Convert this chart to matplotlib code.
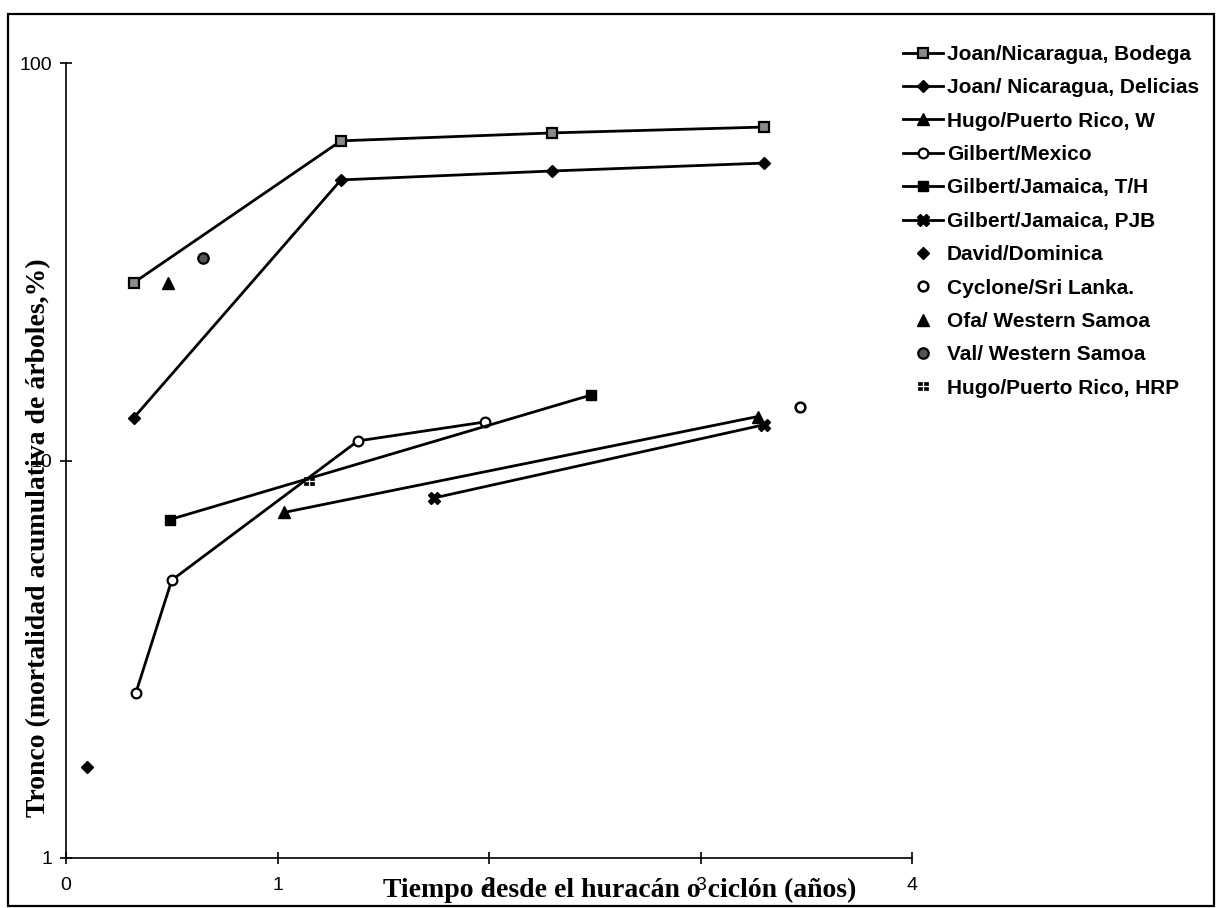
import matplotlib
matplotlib.use("Agg")
import matplotlib.pyplot as plt
from matplotlib.path import Path
from matplotlib.patches import Rectangle

# ---------------- data ----------------
x_bodega = [0.32, 1.30, 2.30, 3.30]
y_bodega = [28.0, 63.7, 66.7, 69.0]

x_delicias = [0.32, 1.30, 2.30, 3.30]
y_delicias = [12.8, 50.8, 53.5, 56.0]

x_hugo_w = [1.03, 3.27]
y_hugo_w = [7.4, 12.9]

x_mexico = [0.33, 0.50, 1.38, 1.98]
y_mexico = [2.6, 5.0, 11.2, 12.5]

x_jam_th = [0.49, 2.48]
y_jam_th = [7.1, 14.6]

x_jam_pjb = [1.74, 3.30]
y_jam_pjb = [8.05, 12.3]

x_david = [0.10]
y_david = [1.69]

x_srilanka = [3.47]
y_srilanka = [13.6]

x_ofa = [0.48]
y_ofa = [28.0]

x_val = [0.65]
y_val = [32.3]

x_hrp = [1.15]
y_hrp = [8.9]

labels = ["Joan/Nicaragua, Bodega", "Joan/ Nicaragua, Delicias",
          "Hugo/Puerto Rico, W", "Gilbert/Mexico", "Gilbert/Jamaica, T/H",
          "Gilbert/Jamaica, PJB", "David/Dominica", "Cyclone/Sri Lanka.",
          "Ofa/ Western Samoa", "Val/ Western Samoa", "Hugo/Puerto Rico, HRP"]

x_ticks = [0, 1, 2, 3, 4]
x_ticklabels = ["0", "1", "2", "3", "4"]
y_ticks = [1, 10, 100]
y_ticklabels = ["1", "10", "100"]

xlabel = "Tiempo desde el huracán o ciclón (años)"
ylabel = "Tronco (mortalidad acumulativa de árboles,%)"

# ---------------- figure ----------------
W, H = 1219, 908
fig = plt.figure(figsize=(W / 100, H / 100), dpi=100)
L, R, T, B = 66, 912, 63, 858
ax = fig.add_axes([L / W, 1 - B / H, (R - L) / W, (B - T) / H])

# custom "::" marker (four small squares)
def sq(cx, cy, s=0.32):
    return Path([(cx - s, cy - s), (cx + s, cy - s), (cx + s, cy + s),
                 (cx - s, cy + s), (cx - s, cy - s)],
                [Path.MOVETO, Path.LINETO, Path.LINETO, Path.LINETO, Path.CLOSEPOLY])
dots_marker = Path.make_compound_path(sq(-0.55, 0.45), sq(0.55, 0.45),
                                      sq(-0.55, -0.45), sq(0.55, -0.45))

lw = 2.0
line_styles = [
    (x_bodega, y_bodega, dict(marker='s', ms=7, mfc='#8a8a8a', mec='k', mew=1.6)),
    (x_delicias, y_delicias, dict(marker='D', ms=6.5, mfc='k', mec='k')),
    (x_hugo_w, y_hugo_w, dict(marker='^', ms=8, mfc='k', mec='k')),
    (x_mexico, y_mexico, dict(marker='o', ms=7, mfc='white', mec='k', mew=1.6)),
    (x_jam_th, y_jam_th, dict(marker='s', ms=6.5, mfc='k', mec='k')),
    (x_jam_pjb, y_jam_pjb, dict(marker='X', ms=8.5, mfc='k', mec='k')),
]
handles = []
for (xs, ys, st), lab in zip(line_styles, labels[:6]):
    h, = ax.plot(xs, ys, color='k', lw=lw, label=lab, **st)
    handles.append(h)

point_styles = [
    (x_david, y_david, dict(marker='D', ms=6, mfc='k', mec='k')),
    (x_srilanka, y_srilanka, dict(marker='o', ms=7, mfc='white', mec='k', mew=1.8)),
    (x_ofa, y_ofa, dict(marker='^', ms=8, mfc='k', mec='k')),
    (x_val, y_val, dict(marker='o', ms=7.5, mfc='#555555', mec='k', mew=1.6)),
    (x_hrp, y_hrp, dict(marker=dots_marker, ms=7, mfc='k', mec='k', mew=0.5)),
]
for (xs, ys, st), lab in zip(point_styles, labels[6:]):
    h, = ax.plot(xs, ys, ls='none', color='k', label=lab, **st)
    handles.append(h)

ax.set_yscale('log')
ax.set_xlim(0, 4)
ax.set_ylim(1, 100)
ax.set_xticks(x_ticks)
ax.set_xticklabels(x_ticklabels)
ax.set_yticks(y_ticks)
ax.set_yticklabels(y_ticklabels)
ax.yaxis.set_minor_locator(matplotlib.ticker.NullLocator())
for s in ['top', 'right']:
    ax.spines[s].set_visible(False)
for s in ['left', 'bottom']:
    ax.spines[s].set_linewidth(1.2)
ax.tick_params(axis='both', direction='inout', length=8, width=1.2,
               labelsize=14, colors='k')
ax.tick_params(axis='y', pad=6)
ax.tick_params(axis='x', pad=10)
for t in ax.get_xticklabels() + ax.get_yticklabels():
    t.set_family('Liberation Sans')

ax.set_xlabel(xlabel, fontsize=20, fontweight='bold', family='Liberation Serif')
ax.xaxis.set_label_coords((620 - L) / (R - L), (B - 890) / (B - T))
ax.xaxis.label.set_va('center')
ax.set_ylabel(ylabel, fontsize=20, fontweight='bold', family='Liberation Serif')
ax.yaxis.set_label_coords((39 - L) / (R - L), (B - 538) / (B - T))
ax.yaxis.label.set_va('center')

leg = ax.legend(handles=handles, loc='upper left',
                bbox_to_anchor=(903 / W, 1 - 45 / H), bbox_transform=fig.transFigure,
                frameon=False, borderpad=0, borderaxespad=0,
                handlelength=1.9, handletextpad=0.2, labelspacing=0.69,
                prop={'family': 'Liberation Sans', 'weight': 'bold', 'size': 15})

# page frame
fig.patches.append(Rectangle((8 / W, 1 - 906 / H), (1214 - 8) / W, (906 - 14) / H,
                             transform=fig.transFigure, fill=False, lw=1.6,
                             edgecolor='k'))

fig.savefig("out.png", dpi=100)
